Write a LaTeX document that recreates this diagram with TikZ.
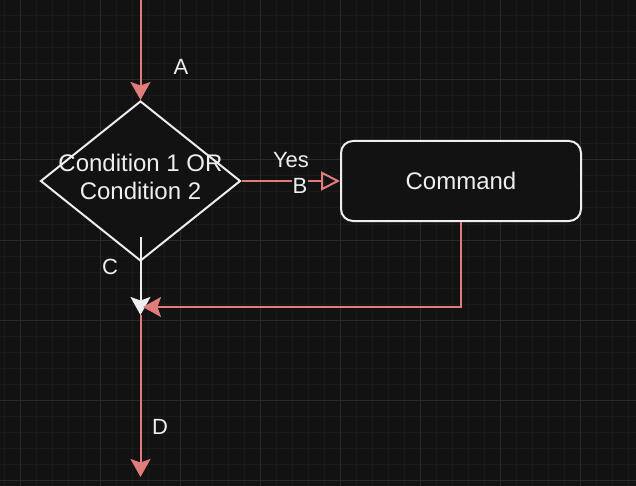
\documentclass[tikz,border=0pt]{standalone}
\usepackage{fontspec}
\setmainfont{Liberation Sans}
\usetikzlibrary{shapes.geometric,arrows.meta}
\definecolor{bgc}{HTML}{121212}
\definecolor{gridminor}{HTML}{1A1A1A}
\definecolor{gridmajor}{HTML}{2A2A2A}
\definecolor{pinkc}{HTML}{E07C7C}
\definecolor{fgc}{HTML}{EEEEEE}
\tikzset{
  pinkline/.style={draw=pinkc, line width=2pt},
  whiteline/.style={draw=fgc, line width=2pt},
  tipc/.style={-{Stealth[length=18pt, width=20pt, inset=3.5pt]}},
  tipopen/.style={-{Triangle[open, length=19pt, width=19pt, line width=2pt]}},
  lbl/.style={text=fgc, font=\fontsize{22}{26}\selectfont, inner sep=1pt},
  shapetext/.style={text=fgc, font=\fontsize{24}{28}\selectfont, align=center},
}
\begin{document}
\begin{tikzpicture}[x=1pt, y=-1pt]
\fill[bgc] (0,0) rectangle (636,486);
\useasboundingbox (0,0) rectangle (636,486);
\foreach \x in {4,20,...,636} \draw[gridminor, line width=1pt] (\x,0) -- (\x,486);
\foreach \y in {16,32,...,486} \draw[gridminor, line width=1pt] (0,\y) -- (636,\y);
\foreach \x in {20,100,...,636} \draw[gridmajor, line width=1pt] (\x,0) -- (\x,486);
\foreach \y in {0,80,...,486} \draw[gridmajor, line width=1pt] (0,\y) -- (636,\y);

\node[diamond, draw=fgc, fill=bgc, line width=2pt, minimum width=200pt, minimum height=160pt, inner sep=0pt] (cond) at (140.5,181) {};
\node[shapetext] (condtext) at (140.5,177) {Condition 1 OR\\Condition 2};
\node[draw=fgc, fill=bgc, line width=2pt, rounded corners=12pt, minimum width=240pt, minimum height=80pt, shapetext] (cmd) at (461,181) {Command};

\coordinate (top) at (140.5,0);
\coordinate (cstart) at (140.5,237);
\coordinate (jc) at (140.5,315);
\coordinate (jp) at (143,307);
\coordinate (dend) at (140.5,477);

\draw[pinkline, tipc] (top) -- (cond.north);
\draw[pinkline, tipopen] (cond.east) -- (cmd.west);
\draw[whiteline, tipc, fgc] (cstart) -- (jc);
\draw[pinkline, tipc, pinkc] (cmd.south) |- (jp);
\draw[pinkline, tipc, pinkc] (jc) -- (dend);

\node[lbl] (la) at (181,67) {A};
\node[lbl] (lyes) at (291,160) {Yes};
\node[lbl, fill=bgc] (lb) at (300,186) {B};
\node[lbl] (lc) at (110,267) {C};
\node[lbl] (ld) at (160,427) {D};
\end{tikzpicture}
\end{document}
